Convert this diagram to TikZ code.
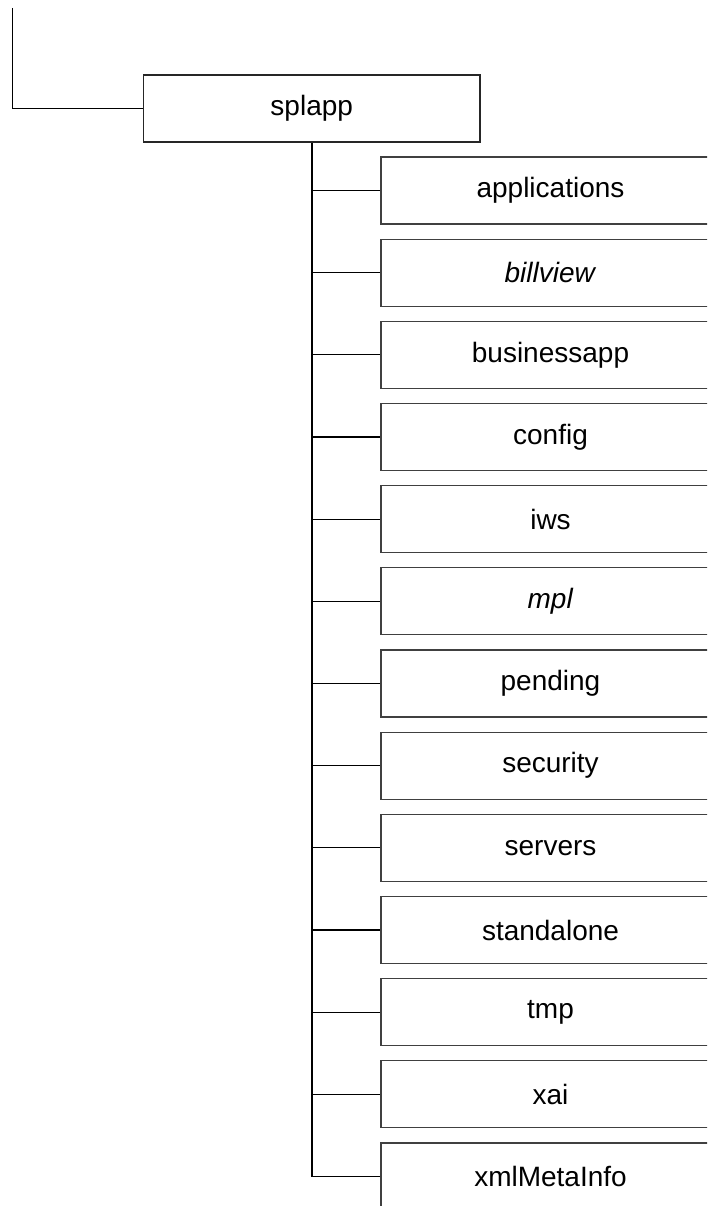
\documentclass[tikz,border=0pt]{standalone}
\usepackage{fontspec}
\setmainfont{Liberation Sans}
\begin{document}
\begin{tikzpicture}[x=1pt,y=-1pt,
  box/.style={draw=black!75, line width=1.2pt, fill=white, minimum height=67pt, inner sep=0pt, font=\fontsize{28}{33}\selectfont},
  parentbox/.style={box, draw=black!85, minimum width=336.5pt},
  childbox/.style={box, minimum width=339pt},
  link/.style={draw=black, line width=1.2pt},
  trunk/.style={draw=black, line width=2pt}]
\useasboundingbox (0,0) rectangle (707,1206);
\clip (0,0) rectangle (707,1206);
\node[parentbox] (splapp) at (311.75,108.5) {splapp};
\coordinate (top) at (12.5,8);
\draw[link] (top) |- (splapp.west);
\foreach \name/\txt [count=\i from 0] in {c0/applications, c1/\textit{billview}, c2/businessapp, c3/config, c4/iws, c5/\textit{mpl}, c6/pending, c7/security, c8/servers, c9/standalone, c10/tmp, c11/xai, c12/xmlMetaInfo}{
  \node[childbox] (\name) at (550.5,{190.5+\i*82.17}) {\txt};
  \draw[link] (splapp.south |- \name.west) -- (\name.west);
}
\draw[trunk] (splapp.south) -- (splapp.south |- c12.west);
\end{tikzpicture}
\end{document}
